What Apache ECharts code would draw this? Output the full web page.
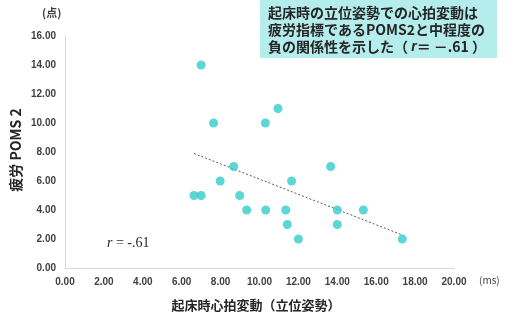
<!DOCTYPE html>
<html><head><meta charset="utf-8">
<script src="https://cdn.jsdelivr.net/npm/echarts@6/dist/echarts.min.js"></script>
<style>html,body{margin:0;padding:0;background:#fff}#c{width:508px;height:323px}</style>
</head><body><div id="c"></div>
<script>
const xValues = [6.63, 7.0, 7.0, 7.64, 7.98, 8.67, 8.98, 9.34, 10.32, 10.3, 10.95, 11.35, 11.43, 11.65, 12.0, 13.66, 14.0, 14.0, 15.34, 17.34];
const yValues = [5, 5, 14, 10, 6, 7, 5, 4, 4, 10, 11, 4, 3, 6, 2, 7, 4, 3, 4, 2];
const trendX = [6.63, 17.34];
const trendY = [7.9, 2.28];
const xTicks = ['0.00','2.00','4.00','6.00','8.00','10.00','12.00','14.00','16.00','18.00','20.00'];
const yTicks = ['0.00','2.00','4.00','6.00','8.00','10.00','12.00','14.00','16.00'];
const noteLines = ['起床時の立位姿勢での心拍変動は', '疲労指標であるPOMS2と中程度の'];

const chart = echarts.init(document.getElementById('c'));
const font = '"Noto Sans CJK JP", "Noto Sans", sans-serif';
const labelStyle = {color:'#404040', fontSize:10, fontWeight:'bold', fontFamily:'"Liberation Sans", Arial, sans-serif'};
chart.setOption({
  animation:false,
  grid:{left:65, right:54, top:36, bottom:55},
  xAxis:{type:'value', min:0, max:20, interval:2,
    axisLine:{show:true, lineStyle:{color:'#d9d9d9', width:1}},
    axisTick:{show:false}, splitLine:{show:false},
    axisLabel:Object.assign({margin:9, formatter:(v)=>xTicks[Math.round(v/2)]}, labelStyle)},
  yAxis:{type:'value', min:0, max:16, interval:2,
    axisLine:{show:true, lineStyle:{color:'#d9d9d9', width:1}},
    axisTick:{show:false}, splitLine:{show:false},
    axisLabel:Object.assign({margin:9, formatter:(v)=>yTicks[Math.round(v/2)]}, labelStyle)},
  series:[
    {type:'line', data:trendX.map((x,i)=>[x,trendY[i]]), symbol:'none',
     lineStyle:{color:'#595959', width:1, type:[2,2]}, z:1},
    {type:'scatter', data:xValues.map((x,i)=>[x,yValues[i]]), symbolSize:9,
     itemStyle:{color:'#33cccc'}, z:2}
  ],
  graphic:[
    {type:'text', left:42, top:7, style:{text:'(点)', font:'bold 11px '+font, fill:'#404040'}},
    {type:'text', x:16, y:150, rotation:Math.PI/2, style:{text:'疲労 POMS 2', font:'bold 14px '+font, fill:'#262626', align:'center', verticalAlign:'middle'}},
    {type:'text', x:256, y:305, style:{text:'起床時心拍変動（立位姿勢）', font:'bold 13px '+font, fill:'#262626', align:'center', verticalAlign:'middle'}},
    {type:'text', x:479, y:280, style:{text:'(ms)', font:'10px '+font, fill:'#404040', verticalAlign:'middle'}},
    {type:'text', x:107, y:243, style:{rich:{
        i:{font:'italic 14px "Liberation Serif", serif', fill:'#262626'},
        n:{font:'14px "Liberation Serif", serif', fill:'#262626'}},
      text:'{i|r}{n| = -.61}', verticalAlign:'middle'}},
    {type:'rect', shape:{x:260, y:0, width:237, height:58}, style:{fill:'#b5ecec'}},
    {type:'text', x:268, y:13, style:{text:noteLines[0], font:'bold 14px '+font, fill:'#262626', verticalAlign:'middle'}},
    {type:'text', x:268, y:30, style:{text:noteLines[1], font:'bold 14px '+font, fill:'#262626', verticalAlign:'middle'}},
    {type:'text', x:268, y:47, style:{verticalAlign:'middle', rich:{
        a:{font:'bold 14px '+font, fill:'#262626'},
        i:{font:'italic bold 14px "Liberation Sans", sans-serif', fill:'#262626'}},
      text:'{a|負の関係性を示した（ }{i|r}{a|＝ －.61 ）}'}}
  ]
});
</script></body></html>
